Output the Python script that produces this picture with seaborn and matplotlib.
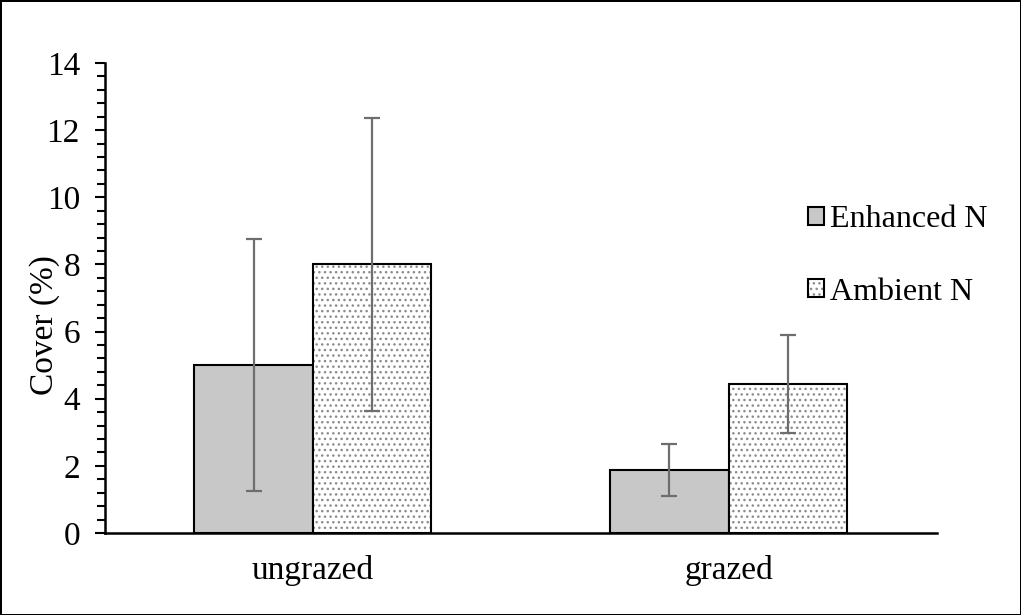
import pandas as pd
import matplotlib.pyplot as plt
import matplotlib.ticker as mticker
import numpy as np
import seaborn as sns

sns.set_theme(style='white')
plt.rcParams['font.family'] = ['Liberation Serif', 'DejaVu Serif']
plt.rcParams['hatch.linewidth'] = 1.0
plt.rcParams['text.color'] = 'black'
plt.rcParams['axes.labelcolor'] = 'black'
plt.rcParams['xtick.color'] = 'black'
plt.rcParams['ytick.color'] = 'black'

grazing = ['ungrazed', 'grazed']
treatments = ['Enhanced N', 'Ambient N']
enhanced = [5.0, 1.87]
ambient = [8.0, 4.44]
enhanced_err = [3.75, 0.77]
ambient_err = [4.37, 1.45]

df = pd.DataFrame({
    'grazing': grazing * 2,
    'N': [treatments[0]] * 2 + [treatments[1]] * 2,
    'cover': enhanced + ambient,
    'err': enhanced_err + ambient_err,
})

fig = plt.figure(figsize=(10.21, 6.15), dpi=100)
fig.patch.set_edgecolor('black')
fig.patch.set_linewidth(2)
ax = fig.add_axes([0.1028, 0.1333, 0.8145, 0.7643])

sns.barplot(data=df, x='grazing', y='cover', hue='N', order=grazing,
            hue_order=treatments, palette=['#c8c8c8', 'white'],
            width=0.57, errorbar=None, edgecolor='black', linewidth=1.5,
            saturation=1, ax=ax)

# grey dot hatch on the ambient bars, outline stays black
hatch_grey = (0.55, 0.55, 0.55, 1)
bars = [p for p in ax.patches if p.get_height() > 0]
for p in bars[2:4]:
    p.set_hatch('...')
    p._hatch_color = hatch_grey

# error bars at the bar centres
xs = [p.get_x() + p.get_width() / 2 for p in bars[:4]]
ys = [p.get_height() for p in bars[:4]]
ax.errorbar(xs, ys, yerr=df['err'], fmt='none', ecolor='#6e6e6e',
            elinewidth=1.6, capsize=6, capthick=1.6, zorder=5)

ax.set_ylim(0, 14)
ax.set_xlim(-0.5, 1.5)
ax.yaxis.set_major_locator(mticker.MultipleLocator(2))
ax.yaxis.set_minor_locator(mticker.MultipleLocator(0.4))
ax.tick_params(axis='y', which='major', left=True, length=7, width=1.5,
               labelsize=24, pad=11)
ax.tick_params(axis='y', which='minor', left=True, length=6, width=1.5)
ax.tick_params(axis='x', bottom=False, labelsize=24, pad=10)
for s in ['top', 'right']:
    ax.spines[s].set_visible(False)
for s in ['left', 'bottom']:
    ax.spines[s].set_color('black')
    ax.spines[s].set_linewidth(1.8)
ax.set_xlabel('')
ax.set_ylabel('Cover (%)', fontsize=24)
ax.yaxis.set_label_coords(-0.054, 0.443)

handles, labels = ax.get_legend_handles_labels()
handles[0].set_edgecolor('black')
handles[1].set_edgecolor('black')
handles[1].set_hatch('...')
handles[1]._hatch_color = hatch_grey
ax.legend(handles, labels, loc='upper left', bbox_to_anchor=(0.791, 0.666),
          bbox_transform=fig.transFigure, frameon=False, fontsize=23,
          handlelength=0.5, handleheight=0.5, handletextpad=0.2,
          labelspacing=1.35, borderpad=0, borderaxespad=0)

fig.savefig('out.png', dpi=100, edgecolor=fig.get_edgecolor())
